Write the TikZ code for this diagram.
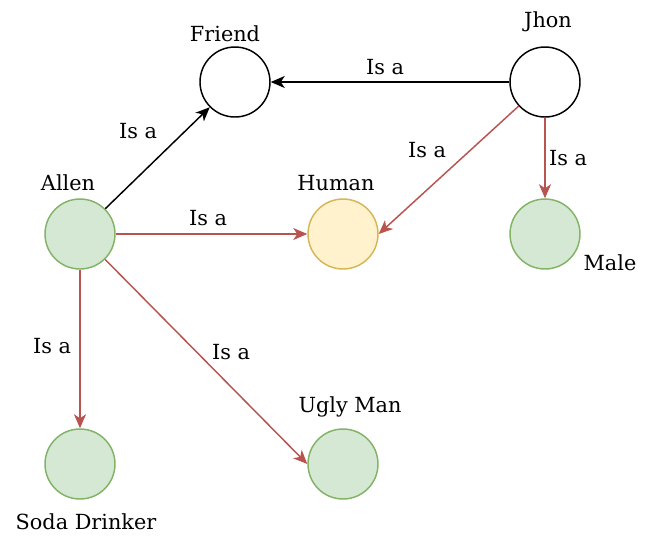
\documentclass[tikz,border=0pt]{standalone}
\usepackage{fontspec}
\setmainfont{DejaVu Serif}
\usetikzlibrary{arrows.meta}
\definecolor{gfill}{HTML}{D5E8D4}
\definecolor{gline}{HTML}{82B366}
\definecolor{yfill}{HTML}{FFF2CC}
\definecolor{yline}{HTML}{D6B656}
\definecolor{redl}{HTML}{B85450}
\begin{document}
\begin{tikzpicture}[x=0.75pt,y=-0.75pt,
  every node/.style={font=\fontsize{15.6pt}{18pt}\selectfont},
  circ/.style={circle,minimum size=70*0.75pt,inner sep=0pt,line width=1.1pt},
  plain/.style={circ,draw=black,fill=white},
  green/.style={circ,draw=gline,fill=gfill},
  yellow/.style={circ,draw=yline,fill=yfill},
  lbl/.style={inner sep=0pt,text=black},
  tip/.style={-{Stealth[length=10.5pt,width=9pt,inset=3pt]}},
  blk/.style={draw=black,line width=1.1pt,tip},
  red/.style={draw=redl,line width=1.1pt,tip},
  elbl/.style={inner sep=0pt,text=black}]
\useasboundingbox (0,0) rectangle (647,551);
\node[plain] (friend) at (235,82) {};
\node[plain] (jhon) at (545,82) {};
\node[green] (allen) at (80,234) {};
\node[yellow] (human) at (343,234) {};
\node[green] (male) at (545,234) {};
\node[green] (soda) at (80,464) {};
\node[green] (ugly) at (343,464) {};
\node[lbl] (tfriend) at (225,34) {Friend};
\node[lbl] (tjhon) at (548,22) {Jhon};
\node[lbl] (tallen) at (68,183) {Allen};
\node[lbl] (thuman) at (336,183) {Human};
\node[lbl] (tmale) at (610,263) {Male};
\node[lbl] (tsoda) at (86,522) {Soda Drinker};
\node[lbl] (tugly) at (350,407) {Ugly Man};
\draw[blk] (jhon) -- (friend);
\draw[blk] (allen.north east) -- (friend.south west);
\draw[red] (jhon) -- (human.east);
\draw[red] (jhon) -- (male);
\draw[red] (allen) -- (human);
\draw[red] (allen) -- (soda);
\draw[red] (allen) -- (ugly.west);
\node[elbl] (e1) at (385,67) {Is a};
\node[elbl] (e2) at (138,131) {Is a};
\node[elbl] (e3) at (427,150) {Is a};
\node[elbl] (e4) at (568,158) {Is a};
\node[elbl] (e5) at (208,218) {Is a};
\node[elbl] (e6) at (52,346) {Is a};
\node[elbl] (e7) at (231,352) {Is a};
\end{tikzpicture}
\end{document}
